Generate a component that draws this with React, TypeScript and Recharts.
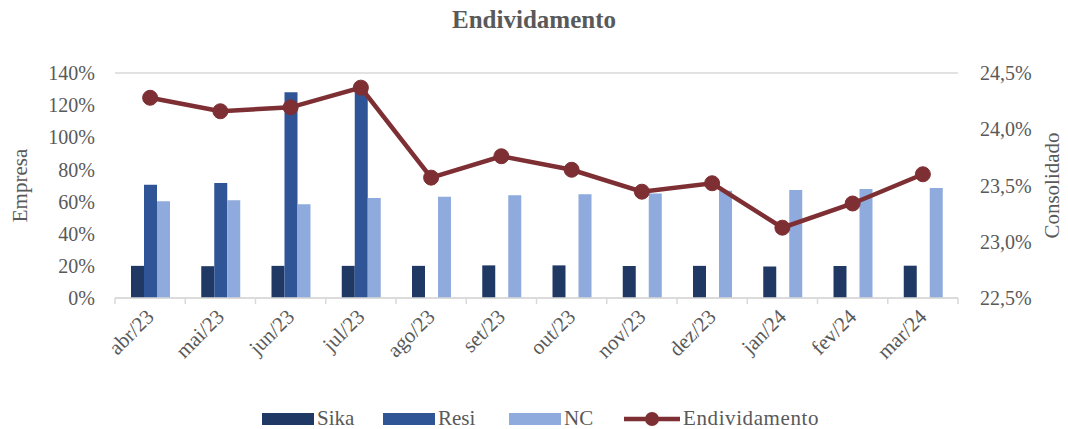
import React from 'react'
import { Bar, CartesianGrid, ComposedChart, Legend, Line, XAxis, YAxis } from 'recharts'

const meses = ['abr/23', 'mai/23', 'jun/23', 'jul/23', 'ago/23', 'set/23', 'out/23', 'nov/23', 'dez/23', 'jan/24', 'fev/24', 'mar/24'];
const sika = [20, 19.8, 20, 20, 20, 20.3, 20.3, 19.9, 20, 19.6, 19.9, 20.1];
const resi = [70.5, 71.6, 128, 130.5, null, null, null, null, null, null, null, null];
const nc = [60.2, 60.8, 58.3, 62.2, 63, 63.9, 64.6, 65.1, 66.8, 67.2, 67.8, 68.4];
const endividamento = [24.28, 24.16, 24.195, 24.37, 23.57, 23.76, 23.64, 23.445, 23.52, 23.125, 23.34, 23.6];

const ticksEmpresa = [0, 20, 40, 60, 80, 100, 120, 140];
const ticksConsolidado = [22.5, 23, 23.5, 24, 24.5];

const cores = { sika: '#203864', resi: '#2F5597', nc: '#8FAADC', linha: '#7D2F33' };
const fonte = '"Liberation Serif", "DejaVu Serif", serif';
const cinza = '#595959';

const dados = meses.map((mes, i) => ({
  mes,
  Sika: sika[i],
  Resi: resi[i],
  NC: nc[i],
  Endividamento: endividamento[i]
}));

function TickMes(props: any) {
  const { x, y, payload, index, width } = props;
  const passo = (width || 843) / meses.length;
  return (
    <g>
      <line x1={x - passo / 2} x2={x - passo / 2} y1={y - 8} y2={y - 2} stroke="#D9D9D9" strokeWidth={1.5} />
      {index === meses.length - 1 && (
        <line x1={x + passo / 2} x2={x + passo / 2} y1={y - 8} y2={y - 2} stroke="#D9D9D9" strokeWidth={1.5} />
      )}
      <text
        transform={`translate(${x + 5},${y + 12}) rotate(-45)`}
        textAnchor="end"
        fontFamily={fonte}
        fontSize={21}
        fill={cinza}
      >
        {payload.value}
      </text>
    </g>
  )
}

function Legenda() {
  const item = (nome: string, cor: string, largura: number) => (
    <div key={nome} style={{ display: 'flex', alignItems: 'center', width: largura }}>
      <div style={{ width: 52, height: 12, background: cor, marginRight: 3 }} />
      <span>{nome}</span>
    </div>
  );
  return (
    <div style={{ display: 'flex', alignItems: 'center', fontFamily: fonte, fontSize: 21, color: cinza, marginLeft: 262 }}>
      {item('Sika', cores.sika, 121)}
      {item('Resi', cores.resi, 126)}
      {item('NC', cores.nc, 115)}
      <div style={{ display: 'flex', alignItems: 'center' }}>
        <svg width={56} height={16} style={{ marginRight: 3 }}>
          <line x1={0} x2={56} y1={8} y2={8} stroke={cores.linha} strokeWidth={4.5} />
          <circle cx={28} cy={8} r={7} fill={cores.linha} />
        </svg>
        <span style={{ letterSpacing: 0.6 }}>Endividamento</span>
      </div>
    </div>
  )
}

export default function App() {
  return (
    <div style={{ position: 'absolute', left: 0, top: 0, width: 1068, height: 429, background: '#fff' }}>
      <div style={{ position: 'absolute', top: 6, width: 1068, textAlign: 'center', fontFamily: fonte, fontWeight: 'bold', fontSize: 25, color: cinza }}>
        Endividamento
      </div>
      <ComposedChart
        width={1068}
        height={429}
        data={dados}
        margin={{ top: 73, right: 0, left: 0, bottom: 46 }}
        barGap={0}
        barSize={13}
      >
        <CartesianGrid vertical={false} stroke="#D9D9D9" strokeWidth={1.5} />
        <XAxis
          dataKey="mes"
          height={85}
          interval={0}
          tickLine={false}
          axisLine={{ stroke: '#D9D9D9', strokeWidth: 1.5 }}
          tick={<TickMes />}
        />
        <YAxis
          yAxisId="esq"
          width={115}
          domain={[0, 140]}
          ticks={ticksEmpresa}
          tickFormatter={(v: number) => `${v}%`}
          axisLine={false}
          tickLine={false}
          tickMargin={14}
          tick={{ fontFamily: fonte, fontSize: 20, fill: cinza }}
          label={{ value: 'Empresa', angle: -90, position: 'insideLeft', offset: 20, style: { fontFamily: fonte, fontSize: 21, fill: cinza, textAnchor: 'middle' } }}
        />
        <YAxis
          yAxisId="dir"
          orientation="right"
          width={110}
          domain={[22.5, 24.5]}
          ticks={ticksConsolidado}
          tickFormatter={(v: number) => `${v.toFixed(1).replace('.', ',')}%`}
          axisLine={false}
          tickLine={false}
          tickMargin={16}
          tick={{ fontFamily: fonte, fontSize: 20, fill: cinza, textAnchor: 'start' }}
          label={{ value: 'Consolidado', angle: -90, position: 'insideRight', offset: 16, style: { fontFamily: fonte, fontSize: 21, fill: cinza, textAnchor: 'middle' } }}
        />
        <Legend
          verticalAlign="middle"
          align="center"
          wrapperStyle={{ top: 406, left: 0, width: 1068 }}
          content={<Legenda />}
        />
        <Bar yAxisId="esq" dataKey="Sika" fill={cores.sika} isAnimationActive={false} />
        <Bar yAxisId="esq" dataKey="Resi" fill={cores.resi} isAnimationActive={false} />
        <Bar yAxisId="esq" dataKey="NC" fill={cores.nc} isAnimationActive={false} />
        <Line
          yAxisId="dir"
          dataKey="Endividamento"
          stroke={cores.linha}
          strokeWidth={4.5}
          dot={{ r: 7.5, fill: cores.linha, stroke: cores.linha, strokeWidth: 1 }}
          activeDot={false}
          isAnimationActive={false}
        />
      </ComposedChart>
    </div>
  )
}
